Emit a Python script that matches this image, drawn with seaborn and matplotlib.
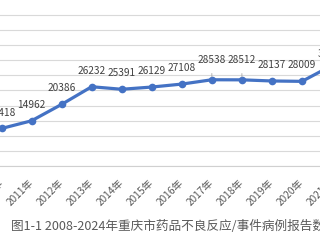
import matplotlib
matplotlib.use("Agg")
import matplotlib.pyplot as plt
import seaborn as sns
import pandas as pd

years = [2010, 2011, 2012, 2013, 2014, 2015, 2016, 2017, 2018, 2019, 2020, 2021]
reports = [12418, 14962, 20386, 26232, 25391, 26129, 27108, 28538, 28512, 28137, 28009, 33300]
tick_labels = [f"{y}年" for y in range(2008, 2024)]
title = "图1-1 2008-2024年重庆市药品不良反应/事件病例报告数量"

sns.set_theme(style="white")
plt.rcParams['font.family'] = ['Noto Sans CJK SC', 'DejaVu Sans']

df = pd.DataFrame({"year": years, "reports": reports})

W, H = 320, 240
fig = plt.figure(figsize=(3.2, 2.4), dpi=100)
# axes extend beyond the figure (reference is a crop of a larger chart)
px0 = 1.5
step = 30.05
xl, xr = 2008, 2023
left_px = px0 + (xl - 2010) * step
right_px = px0 + (xr - 2010) * step
ax = fig.add_axes([left_px / W, (H - 166) / H, (right_px - left_px) / W, 166.2 / H])

sns.lineplot(data=df, x="year", y="reports", ax=ax, color="#4472C4",
             linewidth=2.3, marker="o", markersize=5.5, markeredgewidth=0)

ax.set_xlim(xl, xr)
ax.set_ylim(0, 55000)
ax.set_yticks(range(0, 55000, 5000))
ax.yaxis.grid(True, color="#D9D9D9", linewidth=0.8)
ax.set_axisbelow(True)
for s in ["top", "left", "right"]:
    ax.spines[s].set_visible(False)
ax.spines["bottom"].set_color("#D0D0D0")
ax.spines["bottom"].set_linewidth(0.8)
ax.tick_params(axis="y", left=False, labelleft=False)
ax.tick_params(axis="x", bottom=False, pad=5)
ax.set_xticks(range(2008, 2024))
ax.set_xticklabels(tick_labels, rotation=45, ha="right", va="center",
                   rotation_mode="anchor", fontsize=7.3, color="#595959")
ax.set_xlabel("")
ax.set_ylabel("")

for y, v in zip(years, reports):
    if y in (2017, 2018):
        ax.annotate(str(v), xy=(y, v), xytext=(0, 14.5), textcoords="offset points",
                    ha="center", va="center", fontsize=7.3, color="#404040",
                    arrowprops=dict(arrowstyle="-", color="#A6A6A6", lw=0.6,
                                    shrinkA=4, shrinkB=2))
    elif y == 2021:
        ax.annotate(str(v), xy=(y, v), xytext=(0, 8), textcoords="offset points",
                    ha="center", va="center", fontsize=7.3, color="#404040")
    else:
        ax.annotate(str(v), xy=(y, v), xytext=(0, 11.5), textcoords="offset points",
                    ha="center", va="center", fontsize=7.3, color="#404040")

fig.text(11 / W, (H - 226) / H, title, ha="left", va="center",
         fontsize=9.1, color="#595959")

fig.savefig("out.png", dpi=100)
